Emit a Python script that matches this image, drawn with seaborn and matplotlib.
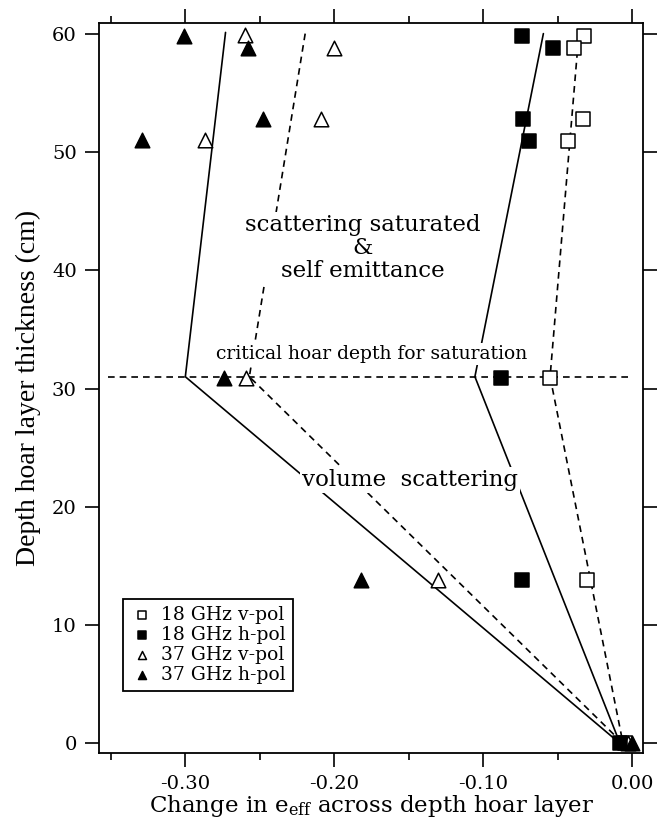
import matplotlib
matplotlib.use("Agg")
import matplotlib.pyplot as plt
import seaborn as sns

sns.set_style("ticks")
plt.rcParams["font.family"] = ["DejaVu Serif"]
plt.rcParams["mathtext.fontset"] = "dejavuserif"
plt.rcParams["axes.unicode_minus"] = False
plt.rcParams.update({"text.color": "black", "axes.labelcolor": "black",
                     "xtick.color": "black", "ytick.color": "black"})

# ---------------------------------------------------------------------------
# data: change in e_eff vs depth hoar thickness (cm)
# ---------------------------------------------------------------------------
v18_x = [-0.032, -0.039, -0.033, -0.043, -0.055, -0.030, -0.005]
v18_y = [59.8, 58.8, 52.8, 50.9, 30.9, 13.8, 0.0]
h18_x = [-0.074, -0.053, -0.073, -0.069, -0.088, -0.074, -0.008]
h18_y = [59.8, 58.8, 52.8, 50.9, 30.9, 13.8, 0.0]
v37_x = [-0.260, -0.200, -0.209, -0.287, -0.259, -0.130, -0.003]
v37_y = [59.9, 58.8, 52.8, 51.0, 30.9, 13.8, 0.0]
h37_x = [-0.301, -0.258, -0.248, -0.329, -0.274, -0.182, 0.000]
h37_y = [59.8, 58.8, 52.8, 51.0, 30.9, 13.8, 0.0]

# model curves (solid = h-pol, dashed = v-pol)
solid_37_x = [-0.273, -0.300, -0.008]
solid_37_y = [60.1, 31.0, 0.0]
dash_37_x = [-0.2195, -0.257, -0.006]
dash_37_y = [60.0, 31.0, 0.0]
solid_18_x = [-0.0595, -0.1055, -0.008]
solid_18_y = [60.0, 31.0, 0.0]
dash_18_x = [-0.036, -0.055, -0.006]
dash_18_y = [59.5, 31.0, 0.0]
crit_x = [-0.352, -0.002]
crit_y = [31.0, 31.0]

fig = plt.figure(figsize=(6.67, 8.23), dpi=100)
ax = fig.add_axes([0.1484, 0.0851, 0.8156, 0.887])

dash = (4, 3)
for xs, ys, ls in [(solid_37_x, solid_37_y, "-"), (dash_37_x, dash_37_y, "--"),
                   (solid_18_x, solid_18_y, "-"), (dash_18_x, dash_18_y, "--"),
                   (crit_x, crit_y, "--")]:
    sns.lineplot(x=xs, y=ys, sort=False, estimator=None, ax=ax,
                 color="black", lw=1.2, zorder=2)
    if ls == "--":
        ax.lines[-1].set_dashes(dash)

series = [
    (v18_x, v18_y, "s", "white", "18 GHz v-pol"),
    (v37_x, v37_y, "^", "white", "37 GHz v-pol"),
    (h18_x, h18_y, "s", "black", "18 GHz h-pol"),
    (h37_x, h37_y, "^", "black", "37 GHz h-pol"),
]
for xs, ys, m, fc, lab in series:
    sns.scatterplot(x=xs, y=ys, marker=m, s=110, color=fc, edgecolor="black",
                    linewidth=1.1, ax=ax, zorder=5, label=lab)

txt_kw = dict(ha="center", va="center", zorder=4,
              bbox=dict(fc="white", ec="none", pad=1.5))
ax.text(-0.181, 41.9, "scattering saturated\n&\nself emittance",
        fontsize=16.5, linespacing=1.05, **txt_kw)
ax.text(-0.175, 32.9, "critical hoar depth for saturation", fontsize=13.5, **txt_kw)
ax.text(-0.149, 22.3, "volume  scattering", fontsize=16.5, **txt_kw)

ax.set_xlim(-0.358, 0.0074)
ax.set_ylim(-0.8, 60.9)
ax.set_xticks([-0.30, -0.20, -0.10, 0.00])
ax.set_xticks([-0.35, -0.25, -0.15, -0.05], minor=True)
ax.set_yticks([0, 10, 20, 30, 40, 50, 60])
ax.xaxis.set_major_formatter(plt.FuncFormatter(lambda v, _: f"{v:.2f}"))
ax.tick_params(which="both", direction="out", top=True, right=True,
               width=1.2, labelsize=14, pad=6, color="black")
ax.tick_params(which="major", length=10)
ax.tick_params(which="minor", length=5)
for sp in ax.spines.values():
    sp.set_linewidth(1.3)
    sp.set_color("black")

ax.set_xlabel(r"Change in e$_{\rm eff}$ across depth hoar layer", fontsize=16.5,
              labelpad=0)
ax.set_ylabel("Depth hoar layer thickness (cm)", fontsize=20,
              family=["Liberation Serif"], labelpad=8)

handles, labels = ax.get_legend_handles_labels()
order = [labels.index(n) for n in ["18 GHz v-pol", "18 GHz h-pol",
                                    "37 GHz v-pol", "37 GHz h-pol"]]
leg = ax.legend([handles[i] for i in order], [labels[i] for i in order],
                loc="lower left", bbox_to_anchor=(0.044, 0.085),
                borderaxespad=0, fontsize=13.5, markerscale=0.55,
                handletextpad=0.4, labelspacing=0.12, borderpad=0.35,
                handlelength=1.3, fancybox=False, framealpha=1,
                edgecolor="black")
leg.get_frame().set_linewidth(1.3)

fig.savefig("out.png", dpi=100)
